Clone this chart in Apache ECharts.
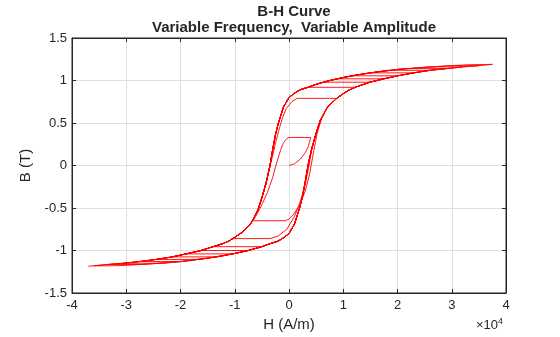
<!DOCTYPE html>
<html>
<head>
<meta charset="utf-8">
<script src="https://cdn.jsdelivr.net/npm/echarts@6/dist/echarts.min.js"></script>
<style>html,body{margin:0;padding:0;background:#fff;}#c{width:560px;height:337px;}</style>
</head>
<body>
<div id="c"></div>
<script>
// H values are in units of 1e4 A/m, B in T
const xTicks = [-4, -3, -2, -1, 0, 1, 2, 3, 4];
const yTicks = [-1.5, -1, -0.5, 0, 0.5, 1, 1.5];

// virgin (initial magnetization) curve
const virgin = [[0,0],[0.1,0.02],[0.2,0.07],[0.3,0.15],[0.36,0.23],[0.4,0.33]];
// first inner half-cycles, read directly
const half1 = [[0.4,0.33],[0.0,0.33],[-0.05,0.31],[-0.1,0.27],[-0.15,0.19],[-0.2,0.09],[-0.25,-0.02],[-0.3,-0.14],[-0.4,-0.32],[-0.5,-0.46],[-0.58,-0.56],[-0.66,-0.65]];
const half2 = [[-0.66,-0.65],[-0.07,-0.65],[0.0,-0.63],[0.08,-0.58],[0.2,-0.46],[0.3,-0.3],[0.38,-0.1],[0.45,0.15],[0.52,0.38],[0.6,0.55],[0.7,0.67],[0.8,0.75],[0.88,0.79]];
const half3 = [[0.88,0.79],[0.15,0.79],[0.05,0.75],[-0.05,0.67],[-0.12,0.56],[-0.18,0.43],[-0.25,0.26],[-0.3,0.12],[-0.37,-0.06],[-0.42,-0.2],[-0.5,-0.38],[-0.57,-0.52],[-0.7,-0.68],[-0.85,-0.78],[-1.03,-0.86]];
const half4 = [[-1.03,-0.86],[-0.35,-0.86],[-0.2,-0.83],[-0.04,-0.75],[0.1,-0.6],[0.2,-0.44],[0.3,-0.22],[0.37,0],[0.42,0.2],[0.5,0.38],[0.57,0.52],[0.7,0.68],[0.88,0.79],[1.0,0.845],[1.1,0.885],[1.22,0.92]];

// outer descending branch (H decreasing)
const descH = [3.75,3.3,3.0,2.5,2.0,1.5,1.25,1.0,0.75,0.5,0.35,0.2,0.1,0.0,-0.1,-0.2,-0.25,-0.3,-0.35,-0.42,-0.5,-0.57,-0.7,-0.85,-1.0,-1.1,-1.2,-1.4,-1.62,-1.9,-2.15,-2.45,-2.75,-3.05,-3.35,-3.6,-3.7];
const descB = [1.19,1.185,1.175,1.155,1.13,1.09,1.065,1.035,1.0,0.955,0.92,0.89,0.85,0.80,0.69,0.49,0.36,0.19,0.0,-0.2,-0.38,-0.52,-0.68,-0.78,-0.845,-0.885,-0.915,-0.955,-1.0,-1.04,-1.075,-1.105,-1.13,-1.15,-1.165,-1.18,-1.185];
// outer ascending branch (H increasing)
const ascH = [-3.7,-3.3,-3.0,-2.5,-2.0,-1.5,-1.25,-1.0,-0.75,-0.5,-0.35,-0.2,-0.1,0.0,0.1,0.2,0.25,0.3,0.35,0.42,0.5,0.57,0.7,0.88,1.0,1.1,1.22,1.49,1.75,2.0,2.3,2.6,2.9,3.2,3.5,3.75];
const ascB = [-1.19,-1.185,-1.175,-1.155,-1.13,-1.09,-1.065,-1.035,-1.0,-0.955,-0.92,-0.89,-0.85,-0.80,-0.69,-0.49,-0.36,-0.19,0.0,0.2,0.38,0.52,0.68,0.79,0.845,0.885,0.92,0.98,1.02,1.055,1.09,1.12,1.14,1.16,1.175,1.19];

// later turning points and where each horizontal reversal segment ends
const turnH = [1.22,-1.4,1.49,-1.62,1.75,-1.9,2.0,-2.15,2.3,-2.45,2.6,-2.75,2.9,-3.05,3.2,-3.35,3.5,-3.6,3.75,-3.7];
const turnB = [0.92,-0.955,0.98,-1.0,1.02,-1.04,1.055,-1.075,1.09,-1.105,1.12,-1.13,1.14,-1.15,1.16,-1.165,1.175,-1.18,1.19,-1.185];
const flatEndH = [0.36,-0.5,0.63,-0.75,0.88,-1.05,1.15,-1.32,1.5,-1.65,1.8,-1.95,2.15,-2.3,2.6,-2.7,3.0,-3.3,3.75,-3.7];

const path = [].concat(virgin, half1.slice(1), half2.slice(1), half3.slice(1), half4.slice(1));
for (let k = 0; k < turnH.length - 1; k++) {
  const h0 = turnH[k], b0 = turnB[k], h1 = turnH[k+1], b1 = turnB[k+1], fe = flatEndH[k];
  if (fe !== h0) path.push([fe, b0]);
  if (h0 > 0) {
    for (let i = 0; i < descH.length; i++) {
      if (descH[i] < fe && descH[i] > h1 && descB[i] < b0) path.push([descH[i], descB[i]]);
    }
  } else {
    for (let i = 0; i < ascH.length; i++) {
      if (ascH[i] > fe && ascH[i] < h1 && ascB[i] > b0) path.push([ascH[i], ascB[i]]);
    }
  }
  path.push([h1, b1]);
}

const FONT = '"Liberation Sans", Arial, Helvetica, sans-serif';
const AX = '#262626';
const chart = echarts.init(document.getElementById('c'), null, {renderer: 'canvas'});
const axisCommon = {
  axisLine: {show: true, onZero: false, lineStyle: {color: AX, width: 1}},
  axisTick: {show: true, inside: true, length: 4, lineStyle: {color: AX}},
};
chart.setOption({
  animation: false,
  backgroundColor: '#ffffff',
  title: {
    text: 'B-H Curve\nVariable Frequency,  Variable Amplitude',
    left: 289, top: -1, textAlign: 'center',
    textStyle: {fontFamily: FONT, fontSize: 15, fontWeight: 'bold', color: AX, lineHeight: 16}
  },
  grid: {left: 72, right: 54, top: 38, bottom: 43, show: true, borderColor: AX, borderWidth: 1, backgroundColor: '#fff'},
  xAxis: [
    Object.assign({
      type: 'value', min: xTicks[0], max: xTicks[xTicks.length-1], interval: 1, position: 'bottom',
      name: 'H (A/m)', nameLocation: 'middle', nameGap: 24,
      nameTextStyle: {fontFamily: FONT, fontSize: 15, color: AX},
      axisLabel: {fontFamily: FONT, fontSize: 13, color: AX, margin: 6},
      splitLine: {show: true, lineStyle: {color: '#dfdfdf', width: 1}}
    }, axisCommon),
    Object.assign({
      type: 'value', min: xTicks[0], max: xTicks[xTicks.length-1], interval: 1, position: 'top',
      axisLabel: {show: false}, splitLine: {show: false}
    }, axisCommon)
  ],
  yAxis: [
    Object.assign({
      type: 'value', min: yTicks[0], max: yTicks[yTicks.length-1], interval: 0.5, position: 'left',
      name: 'B (T)', nameLocation: 'middle', nameGap: 29,
      nameTextStyle: {fontFamily: FONT, fontSize: 15, color: AX},
      axisLabel: {fontFamily: FONT, fontSize: 13, color: AX, margin: 5},
      splitLine: {show: true, lineStyle: {color: '#dfdfdf', width: 1}}
    }, axisCommon),
    Object.assign({
      type: 'value', min: yTicks[0], max: yTicks[yTicks.length-1], interval: 0.5, position: 'right',
      axisLabel: {show: false}, splitLine: {show: false}
    }, axisCommon)
  ],
  graphic: [{
    type: 'text', left: 476, top: 317,
    style: {
      text: '{a|×10}{b|4}',
      rich: {
        a: {fontFamily: FONT, fontSize: 13, fill: AX, color: AX},
        b: {fontFamily: FONT, fontSize: 9, fill: AX, color: AX, verticalAlign: 'top', padding: [0,0,7,0]}
      }
    }
  }],
  series: [{
    type: 'line', data: path, showSymbol: false, symbol: 'none',
    lineStyle: {color: '#ff0000', width: 0.9}, xAxisIndex: 0, yAxisIndex: 0
  }]
});
</script>
</body>
</html>
